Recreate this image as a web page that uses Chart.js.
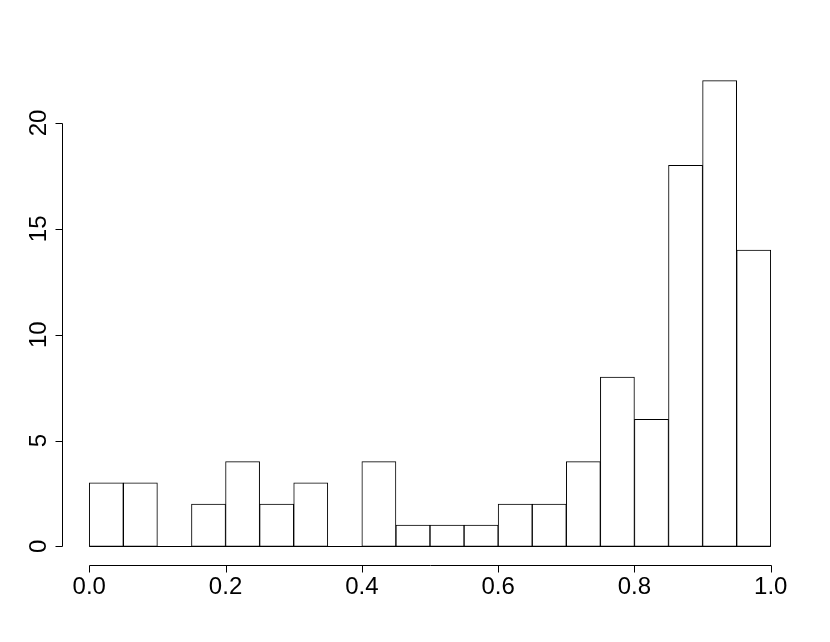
<!DOCTYPE html>
<html>
<head>
<meta charset="utf-8">
<script src="https://cdn.jsdelivr.net/npm/chart.js@4/dist/chart.umd.min.js"></script>
<style>
  html, body { margin: 0; padding: 0; background: #fff; }
  #wrap { width: 830px; height: 642px; }
</style>
</head>
<body>
<div id="wrap"><canvas id="hist"></canvas></div>
<script>
// histogram bins (width 0.05) and counts
const binStarts = [0.00, 0.05, 0.10, 0.15, 0.20, 0.25, 0.30, 0.35, 0.40, 0.45,
                   0.50, 0.55, 0.60, 0.65, 0.70, 0.75, 0.80, 0.85, 0.90, 0.95];
const binWidth = 0.05;
const counts = [3, 3, 0, 2, 4, 2, 3, 0, 4, 1, 1, 1, 2, 2, 4, 8, 6, 18, 22, 14];
const xTicks = [0.0, 0.2, 0.4, 0.6, 0.8, 1.0];
const yTicks = [0, 5, 10, 15, 20];

const tickFont = '24px "Liberation Sans", Arial, sans-serif';

// R-style detached axes drawn from the chart scales
const rAxes = {
    id: 'rAxes',
    beforeDatasetsDraw(chart) {
        // empty bins still show as a line along zero
        const ctx = chart.ctx;
        const xs = chart.scales.x, ys = chart.scales.y;
        const y0 = Math.round(ys.getPixelForValue(0)) + 0.5;
        ctx.save();
        ctx.strokeStyle = '#000';
        ctx.lineWidth = 1;
        ctx.beginPath();
        ctx.moveTo(xs.getPixelForValue(binStarts[0]), y0);
        ctx.lineTo(xs.getPixelForValue(binStarts[binStarts.length - 1] + binWidth), y0);
        ctx.stroke();
        ctx.restore();
    },
    afterDraw(chart) {
        const ctx = chart.ctx;
        const xs = chart.scales.x, ys = chart.scales.y;
        const area = chart.chartArea;
        ctx.save();
        ctx.strokeStyle = '#000';
        ctx.fillStyle = '#000';
        ctx.lineWidth = 1;
        ctx.font = tickFont;

        // x axis
        const yAx = Math.round(area.bottom) + 0.5;
        const x0 = Math.round(xs.getPixelForValue(xTicks[0])) + 0.5;
        const x1 = Math.round(xs.getPixelForValue(xTicks[xTicks.length - 1])) + 0.5;
        ctx.beginPath();
        ctx.moveTo(x0, yAx); ctx.lineTo(x1, yAx);
        xTicks.forEach(v => {
            const px = Math.round(xs.getPixelForValue(v)) + 0.5;
            ctx.moveTo(px, yAx); ctx.lineTo(px, yAx + 7);
        });
        ctx.stroke();
        ctx.textAlign = 'center';
        ctx.textBaseline = 'alphabetic';
        xTicks.forEach(v => {
            ctx.fillText(v.toFixed(1), xs.getPixelForValue(v), yAx + 28);
        });

        // y axis
        const xAx = Math.round(area.left) + 0.5;
        const yb = Math.round(ys.getPixelForValue(yTicks[0])) + 0.5;
        const yt = Math.round(ys.getPixelForValue(yTicks[yTicks.length - 1])) + 0.5;
        ctx.beginPath();
        ctx.moveTo(xAx, yb); ctx.lineTo(xAx, yt);
        yTicks.forEach(v => {
            const py = Math.round(ys.getPixelForValue(v)) + 0.5;
            ctx.moveTo(xAx, py); ctx.lineTo(xAx - 7, py);
        });
        ctx.stroke();
        yTicks.forEach(v => {
            const py = ys.getPixelForValue(v);
            ctx.save();
            ctx.translate(xAx - 17, py);
            ctx.rotate(-Math.PI / 2);
            ctx.textAlign = 'center';
            ctx.textBaseline = 'alphabetic';
            ctx.fillText(String(v), 0, 0);
            ctx.restore();
        });
        ctx.restore();
    }
};

new Chart(document.getElementById('hist'), {
    type: 'bar',
    data: {
        datasets: [{
            data: binStarts.map((s, i) => ({ x: s + binWidth / 2, y: counts[i] })),
            backgroundColor: '#fff',
            borderColor: '#000',
            borderWidth: 1,
            borderSkipped: false,
            barPercentage: 1,
            categoryPercentage: 1
        }]
    },
    options: {
        responsive: true,
        maintainAspectRatio: false,
        animation: false,
        layout: { padding: { left: 62, right: 32, top: 62, bottom: 77 } },
        plugins: { legend: { display: false }, tooltip: { enabled: false } },
        scales: {
            x: { type: 'linear', min: -0.04, max: 1.04, display: false, offset: false },
            y: { min: -0.88, max: 22.88, display: false }
        }
    },
    plugins: [rAxes]
});
</script>
</body>
</html>
